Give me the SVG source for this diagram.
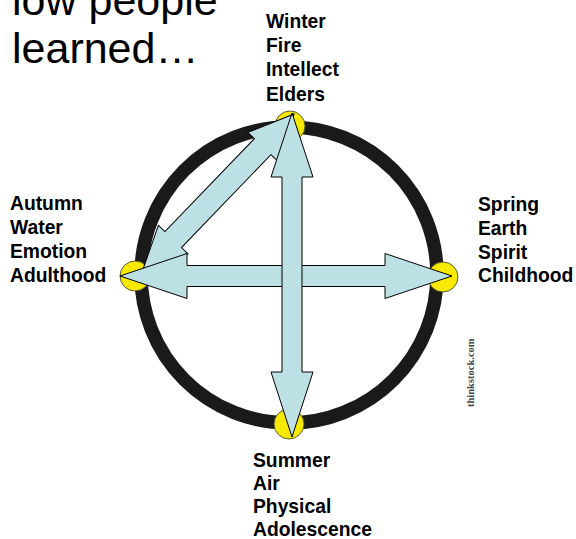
<svg xmlns="http://www.w3.org/2000/svg" width="576" height="539" viewBox="0 0 576 539">
<style>
.lbl{font-family:"Liberation Sans",Arial,sans-serif;font-weight:bold;font-size:19.3px;fill:#000}
.title{font-family:"Liberation Sans",Arial,sans-serif;font-size:43px;fill:#000}
.dot{fill:#f7e900;stroke:#5a5a3a;stroke-width:1}
.arr{fill:#bde0e4;stroke:#000;stroke-width:1;stroke-linejoin:miter}
.wm{font-family:"Liberation Serif","Times New Roman",serif;font-weight:bold;font-size:10.5px;fill:#444}
</style>
<rect width="576" height="539" fill="#fff"/>
<text class="title" x="12" y="15">low people</text>
<text class="title" x="12" y="63">learned…</text>
<circle cx="289" cy="275" r="148" fill="none" stroke="#1a1a1a" stroke-width="13.5"/>
<g id="winter">
<circle class="dot" cx="290" cy="126" r="15"/>
<text class="lbl" x="266" y="28">Winter</text>
<text class="lbl" x="266" y="52.2">Fire</text>
<text class="lbl" x="266" y="76.4">Intellect</text>
<text class="lbl" x="266" y="100.6">Elders</text>
</g>
<g id="autumn">
<circle class="dot" cx="135" cy="276" r="15"/>
<text class="lbl" x="10" y="210">Autumn</text>
<text class="lbl" x="10" y="234">Water</text>
<text class="lbl" x="10" y="258">Emotion</text>
<text class="lbl" x="10" y="282">Adulthood</text>
</g>
<g id="spring">
<circle class="dot" cx="443" cy="277" r="15"/>
<text class="lbl" x="478" y="211">Spring</text>
<text class="lbl" x="478" y="235">Earth</text>
<text class="lbl" x="478" y="258.5">Spirit</text>
<text class="lbl" x="478" y="282">Childhood</text>
</g>
<g id="summer">
<circle class="dot" cx="289" cy="424" r="15"/>
<text class="lbl" x="253" y="466.5">Summer</text>
<text class="lbl" x="253" y="490">Air</text>
<text class="lbl" x="253" y="513">Physical</text>
<text class="lbl" x="253" y="535.5">Adolescence</text>
</g>
<g id="connectors">
<path class="arr" transform="translate(142,272) rotate(-46.1)" d="M0,0 L45,-20.5 L45,-11.5 L174,-11.5 L174,-20.5 L219.3,0 L174,20.5 L174,11.5 L45,11.5 L45,20.5 Z"/>
<polygon class="arr" points="120,276 187,253.5 187,265.5 385,265.5 385,253.5 452,276 385,298.5 385,286.5 187,286.5 187,298.5"/>
<polygon class="arr" points="292,113 313,177 302,177 302,372 313,372 292,437 271,372 282,372 282,177 271,177"/>
</g>
<text class="wm" transform="translate(474,407) rotate(-90)">thinkstock.com</text>
</svg>
